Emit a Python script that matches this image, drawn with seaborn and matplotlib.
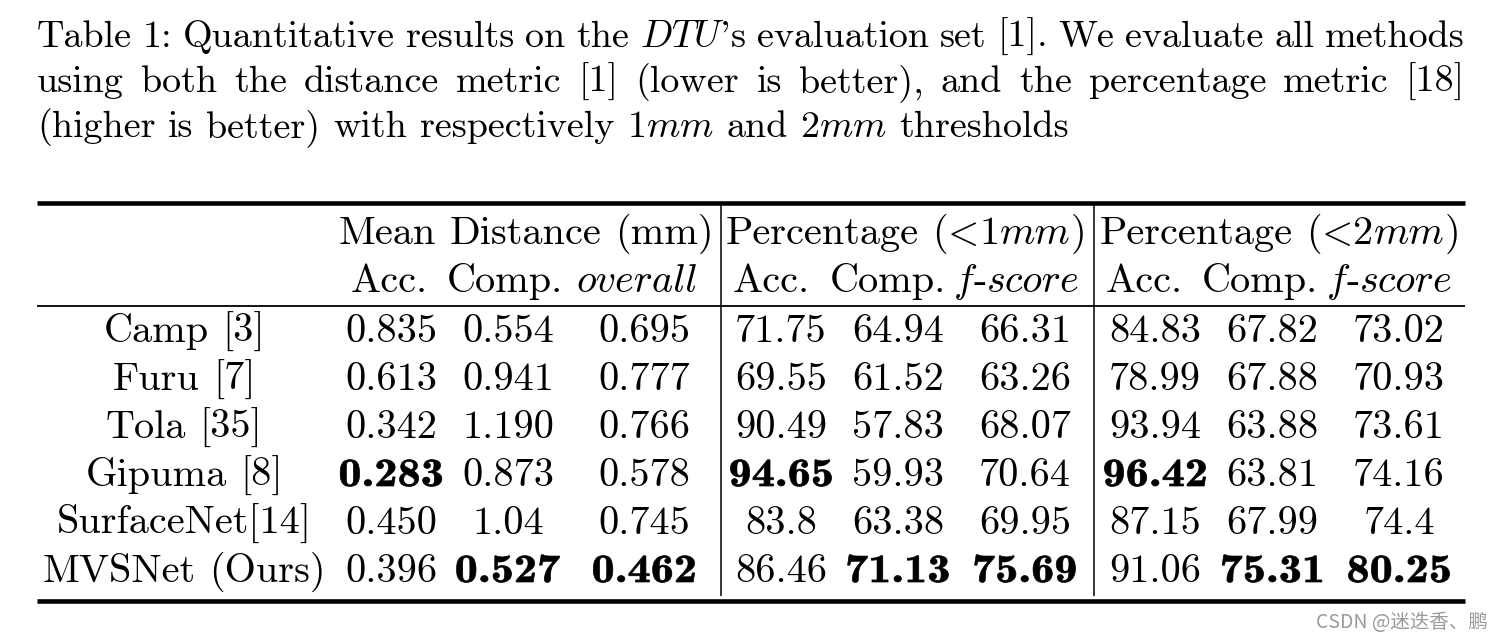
import matplotlib
matplotlib.use("Agg")
import matplotlib.pyplot as plt
import seaborn as sns
from matplotlib.textpath import TextPath
from matplotlib.font_manager import FontProperties
from matplotlib.patches import PathPatch
from matplotlib.transforms import Affine2D

# ---------------- data ----------------
caption_line1 = ["Table", "1:", "Quantitative", "results", "on", "the", "$DTU$'s", "evaluation",
                 "set", "[1].", "We", "evaluate", "all", "methods"]
caption_line2 = ["using", "both", "the", "distance", "metric", "[1]", "(lower", "is", "better),",
                 "and", "the", "percentage", "metric", "[18]"]
caption_line3 = ["(higher", "is", "better)", "with", "respectively", "1$mm$", "and", "2$mm$", "thresholds"]

LT = [("(", "cmr10"), ("<", "cmmi10")]
group_headers = [["Mean", "Distance", "(mm)"],
                 ["Percentage", LT + [("1", "cmr10"), ("mm", "cmmi10"), (")", "cmr10")]],
                 ["Percentage", LT + [("2", "cmr10"), ("mm", "cmmi10"), (")", "cmr10")]]]
FSCORE = [("f", "cmmi10"), ("-", "cmr10"), ("score", "cmmi10")]
sub_headers = ["Acc.", "Comp.", [("overall", "cmmi10")],
               "Acc.", "Comp.", FSCORE,
               "Acc.", "Comp.", FSCORE]

methods = ["Camp [3]", "Furu [7]", "Tola [35]", "Gipuma [8]", "SurfaceNet[14]", "MVSNet (Ours)"]
dist_acc = ["0.835", "0.613", "0.342", "0.283", "0.450", "0.396"]
dist_comp = ["0.554", "0.941", "1.190", "0.873", "1.04", "0.527"]
dist_overall = ["0.695", "0.777", "0.766", "0.578", "0.745", "0.462"]
p1_acc = ["71.75", "69.55", "90.49", "94.65", "83.8", "86.46"]
p1_comp = ["64.94", "61.52", "57.83", "59.93", "63.38", "71.13"]
p1_f = ["66.31", "63.26", "68.07", "70.64", "69.95", "75.69"]
p2_acc = ["84.83", "78.99", "93.94", "96.42", "87.15", "91.06"]
p2_comp = ["67.82", "67.88", "63.88", "63.81", "67.99", "75.31"]
p2_f = ["73.02", "70.93", "73.61", "74.16", "74.4", "80.25"]
lower_is_better = [True, True, True, False, False, False, False, False, False]

watermark = "CSDN @迷迭香、鹏"

# ---------------- style ----------------
sns.set_theme(style="white")
plt.rcParams["font.family"] = ["cmr10"]
plt.rcParams["mathtext.fontset"] = "cm"
plt.rcParams["axes.unicode_minus"] = False

FS = 29        # table font size (pt)
FS_CAP = 27.4  # caption font size (pt)

fig = plt.figure(figsize=(15.02, 6.40), dpi=100)
ax = fig.add_axes([0, 0, 1, 1])
ax.set_xlim(0, 1502)
ax.set_ylim(640, 0)
ax.axis("off")
renderer = fig.canvas.get_renderer()


def make_word(word, y, fs):
    segs = word if isinstance(word, list) else [(word, "cmr10")]
    texts = []
    for s, fam in segs:
        t = ax.text(0, y, s, va="baseline", ha="left", fontsize=fs, fontfamily=fam, color="black")
        texts.append((t, t.get_window_extent(renderer).width))
    return texts, sum(w for _, w in texts)


def draw_words(words, y, mode, fs=FS, x0=None, x1=None, cx=None):
    space = 0.3333 * fs * 100 / 72
    items = [make_word(w, y, fs) for w in words]
    widths = [w for _, w in items]
    total = sum(widths) + space * (len(words) - 1)
    if mode == "justify":
        gap = (x1 - x0 - sum(widths)) / (len(words) - 1)
        start = x0
    elif mode == "left":
        gap = space
        start = x0
    else:
        gap = space
        start = cx - total / 2
    x = start
    for (texts, wtot) in items:
        xx = x
        for t, w in texts:
            t.set_x(xx)
            xx += w
        x += wtot + gap


def bold_number(s, cx, yb, fs=FS, stretch=1.15):
    px = fs * 100 / 72
    tp = TextPath((0, 0), s, size=px, prop=FontProperties(family="cmb10"))
    ext = tp.get_extents()
    tr = (Affine2D().scale(stretch, -1)
          .translate(cx - (ext.x0 + ext.width / 2) * stretch, yb) + ax.transData)
    ax.add_patch(PathPatch(tp, transform=tr, fc="black", ec="black", lw=0.5))


# caption
draw_words(caption_line1, 47, "justify", fs=FS_CAP, x0=37, x1=1465)
draw_words(caption_line2, 92, "justify", fs=FS_CAP, x0=37, x1=1465)
draw_words(caption_line3, 137, "left", fs=FS_CAP, x0=37)

# rules
ax.plot([37, 1465], [203, 203], color="black", lw=3.3, solid_capstyle="butt")
ax.plot([37, 1465], [306, 306], color="black", lw=1.3, solid_capstyle="butt")
ax.plot([37, 1465], [601, 601], color="black", lw=3.3, solid_capstyle="butt")
for xv in (721, 1094):
    ax.plot([xv, xv], [205, 596], color="black", lw=1.1, solid_capstyle="butt")

# headers
group_centers = [526, 906, 1280]
for words, cx in zip(group_headers, group_centers):
    draw_words(words, 244, "center", cx=cx)

sub_centers = [389, 505, 637, 771, 888, 1017, 1144, 1260, 1390]
for label, cx in zip(sub_headers, sub_centers):
    draw_words([label], 292, "center", cx=cx)

# body
col_centers = [391, 508, 644, 781, 898, 1025, 1155, 1272, 1399]
columns = [dist_acc, dist_comp, dist_overall, p1_acc, p1_comp, p1_f, p2_acc, p2_comp, p2_f]
row_baselines = [342 + 48 * i for i in range(len(methods))]

for m, yb in zip(methods, row_baselines):
    draw_words(m.split(" "), yb, "center", cx=184)

for col, cx, low in zip(columns, col_centers, lower_is_better):
    vals = [float(v) for v in col]
    best = min(vals) if low else max(vals)
    for v, s, yb in zip(vals, col, row_baselines):
        if v == best:
            bold_number(s, cx, yb)
        else:
            ax.text(cx, yb, s, ha="center", va="baseline", fontsize=FS,
                    fontfamily="cmr10", color="black")

# watermark
ax.text(1488, 628, watermark, ha="right", va="baseline", fontsize=14,
        fontfamily=["Noto Sans CJK SC", "DejaVu Sans"], color="#9a9a9a")

fig.savefig("out.png", dpi=100)
